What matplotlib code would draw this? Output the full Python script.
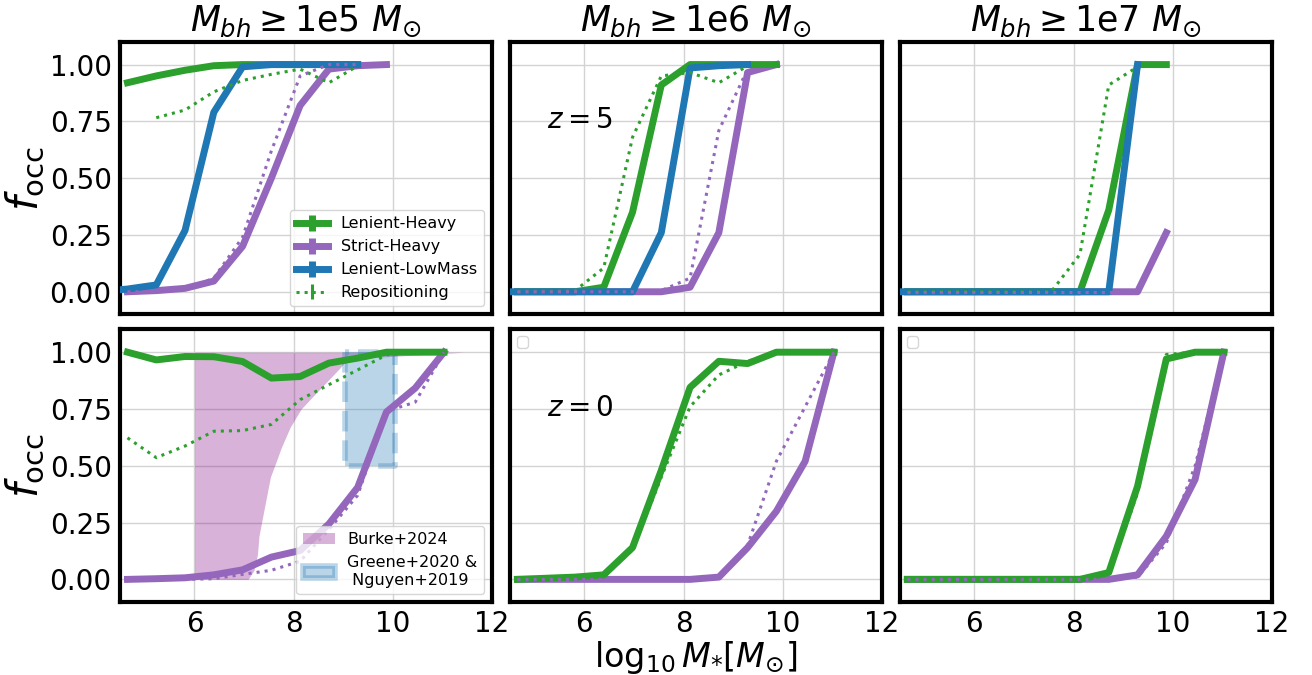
#import libraries
import numpy as np
import matplotlib.pyplot as plt
import matplotlib.patches as mpatches

#stellar mass bin centres (log10 M*)
logm = [4.07, 4.65, 5.23, 5.81, 6.39, 6.97, 7.55, 8.13, 8.71, 9.29, 9.87, 10.45, 11.03]

#z=5, Mbh >= 1e5
z5_1e5_lh = [None, 0.92, 0.95, 0.975, 0.995, 1.0, 1.0, 1.0, 1.0, 1.0]
z5_1e5_sh = [None, 0.0, 0.005, 0.015, 0.047, 0.20, 0.50, 0.82, 0.98, 0.995, 1.0]
z5_1e5_lm = [0.0, 0.012, 0.03, 0.27, 0.79, 0.99, 1.0, 1.0, 1.0, 1.0]
z5_1e5_rep = [None, None, 0.766, 0.80, 0.88, 0.93, 0.957, 0.98, 0.92, 0.994]
z5_1e5_rep_s = [None, 0.0, 0.0, 0.01, 0.06, 0.24, 0.62, 0.95, 1.0, 1.0]

#z=5, Mbh >= 1e6
z5_1e6_lh = [None, 0.0, 0.0, 0.0, 0.02, 0.35, 0.91, 1.0, 1.0, 1.0, 1.0]
z5_1e6_sh = [None, 0.0, 0.0, 0.0, 0.0, 0.0, 0.0, 0.02, 0.26, 0.965, 1.0]
z5_1e6_lm = [0.0, 0.0, 0.0, 0.0, 0.0, 0.0, 0.26, 0.985, 0.995, 1.0]
z5_1e6_rep = [None, 0.0, 0.0, 0.005, 0.105, 0.68, 0.95, 0.965, 0.92, 0.994]
z5_1e6_rep_s = [None, 0.0, 0.0, 0.0, 0.0, 0.0, 0.005, 0.06, 0.71, 0.98]

#z=5, Mbh >= 1e7
z5_1e7_lh = [None, 0.0, 0.0, 0.0, 0.0, 0.0, 0.0, 0.0, 0.36, 1.0, 1.0]
z5_1e7_sh = [None, 0.0, 0.0, 0.0, 0.0, 0.0, 0.0, 0.0, 0.0, 0.0, 0.26]
z5_1e7_lm = [0.0, 0.0, 0.0, 0.0, 0.0, 0.0, 0.0, 0.0, 0.0, 1.0]
z5_1e7_rep = [None, 0.0, 0.0, 0.0, 0.0, 0.0, 0.0, 0.165, 0.91, 0.99]
z5_1e7_rep_s = [None, 0.0, 0.0, 0.0, 0.0, 0.0, 0.0, 0.0, 0.0, 0.0]

#z=0, Mbh >= 1e5
z0_1e5_lh = [None, 1.0, 0.966, 0.981, 0.98, 0.959, 0.886, 0.893, 0.952, 0.974, 1.0, 1.0, 1.0]
z0_1e5_sh = [None, 0.0, 0.003, 0.007, 0.02, 0.042, 0.098, 0.127, 0.244, 0.405, 0.737, 0.842, 1.0]
z0_1e5_rep = [None, 0.623, 0.536, 0.587, 0.652, 0.655, 0.682, 0.791, 0.857, 0.922, 0.988, 1.0, 1.0]
z0_1e5_rep_s = [None, 0.0, 0.0, 0.0, 0.003, 0.022, 0.04, 0.08, 0.22, 0.37, 0.74, 0.78, 1.0]

#z=0, Mbh >= 1e6
z0_1e6_lh = [None, 0.0, 0.005, 0.01, 0.02, 0.14, 0.48, 0.845, 0.96, 0.95, 1.0, 1.0, 1.0]
z0_1e6_sh = [None, 0.0, 0.0, 0.0, 0.0, 0.0, 0.0, 0.0, 0.01, 0.14, 0.30, 0.52, 1.0]
z0_1e6_rep = [None, 0.0, 0.0, 0.0, 0.01, 0.13, 0.45, 0.76, 0.90, 0.96, 1.0, 1.0, 1.0]
z0_1e6_rep_s = [None, 0.0, 0.0, 0.0, 0.0, 0.0, 0.0, 0.0, 0.01, 0.15, 0.52, 0.76, 1.0]

#z=0, Mbh >= 1e7
z0_1e7_lh = [None, 0.0, 0.0, 0.0, 0.0, 0.0, 0.0, 0.0, 0.03, 0.41, 0.97, 1.0, 1.0]
z0_1e7_sh = [None, 0.0, 0.0, 0.0, 0.0, 0.0, 0.0, 0.0, 0.0, 0.02, 0.19, 0.44, 1.0]
z0_1e7_rep = [None, 0.0, 0.0, 0.0, 0.0, 0.0, 0.0, 0.0, 0.02, 0.38, 0.99, 1.0, 1.0]
z0_1e7_rep_s = [None, 0.0, 0.0, 0.0, 0.0, 0.0, 0.0, 0.0, 0.0, 0.01, 0.16, 0.50, 1.0]

#Burke+2024 constraint (lower edge, upper edge is 1)
burke_x = [6.0, 7.08, 7.2, 7.27, 7.3, 7.37, 7.45, 7.53, 7.65, 7.75, 7.93, 8.15, 8.45, 8.8, 9.1, 11.43]
burke_lo = [0.0, 0.0, 0.04, 0.11, 0.19, 0.27, 0.36, 0.45, 0.52, 0.58, 0.67, 0.75, 0.82, 0.90, 0.97, 1.0]

#Greene+2020 & Nguyen+2019 box
greene_x = [9.03, 10.05]
greene_lo = 0.5
greene_hi = 1.0

titles = [r'$M_{bh} \geq$1e5 $M_{\odot}$', r'$M_{bh} \geq$1e6 $M_{\odot}$', r'$M_{bh} \geq$1e7 $M_{\odot}$']

green = 'tab:green'
purple = 'tab:purple'
blue = 'tab:blue'


def series(vals):
    x = [logm[i] for i in range(len(vals)) if vals[i] is not None]
    y = [v for v in vals if v is not None]
    return x, y


def draw(ax, lh, sh, rep, rep_s, lm=None):
    if lm is not None:
        x, y = series(lm)
        ax.errorbar(x, y, yerr=np.zeros(len(y)), color=blue, lw=5, zorder=3)
    x, y = series(sh)
    ax.errorbar(x, y, yerr=np.zeros(len(y)), color=purple, lw=5, zorder=2)
    x, y = series(lh)
    ax.errorbar(x, y, yerr=np.zeros(len(y)), color=green, lw=5, zorder=2.5)
    x, y = series(rep)
    ax.errorbar(x, y, yerr=np.zeros(len(y)), color=green, ls=':', lw=2.2, zorder=4)
    x, y = series(rep_s)
    ax.errorbar(x, y, yerr=np.zeros(len(y)), color=purple, ls=':', lw=2.2, zorder=4)


fig, axes = plt.subplots(2, 3, figsize=(13.12, 6.75), dpi=100, sharex=True, sharey=True)
plt.subplots_adjust(left=0.0915, right=0.9695, top=0.938, bottom=0.108, wspace=0.048, hspace=0.055)

draw(axes[0, 0], z5_1e5_lh, z5_1e5_sh, z5_1e5_rep, z5_1e5_rep_s, z5_1e5_lm)
draw(axes[0, 1], z5_1e6_lh, z5_1e6_sh, z5_1e6_rep, z5_1e6_rep_s, z5_1e6_lm)
draw(axes[0, 2], z5_1e7_lh, z5_1e7_sh, z5_1e7_rep, z5_1e7_rep_s, z5_1e7_lm)
draw(axes[1, 0], z0_1e5_lh, z0_1e5_sh, z0_1e5_rep, z0_1e5_rep_s)
draw(axes[1, 1], z0_1e6_lh, z0_1e6_sh, z0_1e6_rep, z0_1e6_rep_s)
draw(axes[1, 2], z0_1e7_lh, z0_1e7_sh, z0_1e7_rep, z0_1e7_rep_s)

#observational constraints
ax = axes[1, 0]
ax.fill_between(burke_x, burke_lo, 1.0, color='purple', alpha=0.3, lw=0, zorder=1)
ax.fill_between(greene_x, greene_lo, greene_hi, facecolor=blue, edgecolor=blue, alpha=0.3,
                linestyle='--', lw=4, zorder=1)

for ax in axes.flat:
    ax.set_xlim(4.5, 12)
    ax.set_ylim(-0.1, 1.1)
    ax.set_xticks([6, 8, 10, 12])
    ax.set_yticks([0, 0.25, 0.5, 0.75, 1.0])
    ax.yaxis.set_major_formatter(plt.FormatStrFormatter('%.2f'))
    ax.grid(True, color='lightgrey', lw=1)
    ax.set_axisbelow(True)
    ax.tick_params(length=0, labelsize=20, pad=6)
    for s in ax.spines.values():
        s.set_linewidth(3)

for j in range(3):
    axes[0, j].set_title(titles[j], fontsize=25, pad=8)
for i in range(2):
    axes[i, 0].set_ylabel(r'$f_{\rm occ}$', fontsize=30, labelpad=2)

axes[0, 1].text(5.25, 0.72, r'$z=5$', fontsize=20)
axes[1, 1].text(5.25, 0.72, r'$z=0$', fontsize=20)

fig.text(0.53, 0.012, r'$\log_{10} M_{*} [M_{\odot}]$', fontsize=24, ha='center')

#legends
c = axes[0, 0].containers
axes[0, 0].legend([c[2], c[1], c[0], c[3]],
                  ['Lenient-Heavy', 'Strict-Heavy', 'Lenient-LowMass', 'Repositioning'],
                  loc='lower right', fontsize=11.5)

burke_patch = mpatches.Patch(color='purple', alpha=0.3, lw=0)
greene_patch = mpatches.Patch(facecolor=blue, edgecolor=blue, alpha=0.3, lw=4)
axes[1, 0].legend([burke_patch, greene_patch], ['Burke+2024', 'Greene+2020 &\n Nguyen+2019'],
                  loc='lower right', fontsize=11.5)

axes[1, 1].legend(handles=[], loc='upper left')
axes[1, 2].legend(handles=[], loc='upper left')

plt.savefig('out.png', dpi=100)
